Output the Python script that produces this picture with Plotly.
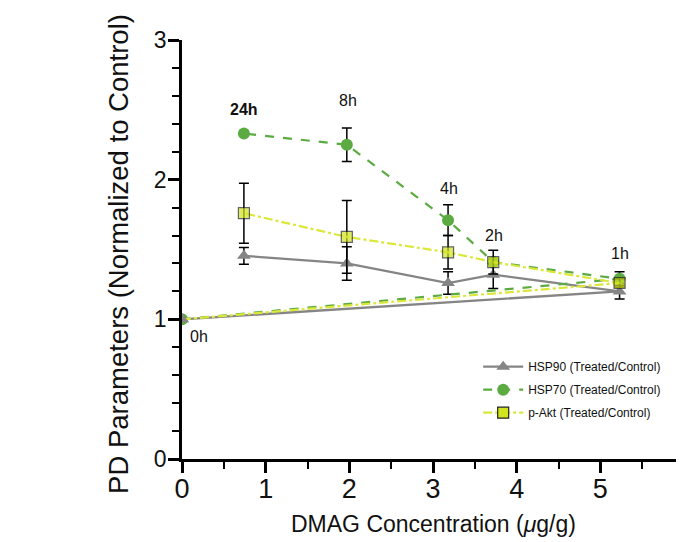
import plotly.graph_objects as go

# Data (x = DMAG concentration, y = normalized PD parameter), time order 0h,1h,2h,4h,8h,24h
time_labels = ["0h", "1h", "2h", "4h", "8h", "24h"]
dmag_conc = [0.0, 5.23, 3.72, 3.18, 1.97, 0.74]

hsp90 = [1.00, 1.20, 1.32, 1.26, 1.40, 1.455]
hsp90_err = [0.0, 0.055, 0.10, 0.08, 0.12, 0.06]

hsp70 = [1.00, 1.29, 1.41, 1.71, 2.25, 2.33]
hsp70_err = [0.0, 0.05, 0.0, 0.11, 0.12, 0.0]

pakt = [1.00, 1.26, 1.41, 1.48, 1.59, 1.76]
pakt_err = [0.0, 0.03, 0.085, 0.12, 0.26, 0.215]

# label positions for the time annotations
label_y = [0.88, 1.47, 1.60, 1.94, 2.57, 2.50]
label_x = [0.20, 5.24, 3.73, 3.19, 1.98, 0.74]

NARROW = "Liberation Sans, Arial, sans-serif"
GRAY = "#858585"
GREEN = "#5bab42"
YELLOW = "#d2e31f"
YLINE = "#dbe83a"

fig = go.Figure()

def err(vals):
    return dict(type="data", array=vals, visible=True, color="black", thickness=1.5, width=5)

fig.add_trace(go.Scatter(
    x=dmag_conc, y=hsp90, mode="lines+markers", name="HSP90 (Treated/Control)",
    legendgroup="a",
    line=dict(color=GRAY, width=2.3),
    marker=dict(symbol="triangle-up", size=12, color=GRAY),
    error_y=err(hsp90_err)))
fig.add_trace(go.Scatter(
    x=dmag_conc, y=hsp70, mode="lines+markers", name="HSP70 (Treated/Control)",
    legendgroup="b",
    line=dict(color=GREEN, width=2.2, dash="dash"),
    marker=dict(symbol="circle", size=12, color=GREEN),
    error_y=err(hsp70_err)))

pakt_line = dict(color=YLINE, width=2.2, dash="dashdot")
pakt_marker = dict(symbol="square", size=11, color=YELLOW, line=dict(color="#222", width=1.2))
pakt_sizes = [0 if xv == 0 else 11 for xv in dmag_conc]
fig.add_trace(go.Scatter(
    x=dmag_conc, y=pakt, mode="lines+markers", name="p-Akt (Treated/Control)",
    legendgroup="c", showlegend=False,
    line=pakt_line,
    marker=dict(pakt_marker, size=pakt_sizes),
    error_y=err(pakt_err)))
# legend entry for p-Akt
fig.add_trace(go.Scatter(
    x=[None], y=[None], mode="lines+markers", name="p-Akt (Treated/Control)",
    legendgroup="c", line=pakt_line, marker=pakt_marker))
# origin triangle drawn on top (as in the reference)
fig.add_trace(go.Scatter(
    x=dmag_conc[:1], y=hsp90[:1], mode="markers", showlegend=False, hoverinfo="skip",
    marker=dict(symbol="triangle-up", size=12, color=GRAY)))

for lx, ly, t in zip(label_x, label_y, time_labels):
    fig.add_annotation(
        x=lx, y=ly, text=("<b>%s</b>" % t) if t == "24h" else t, showarrow=False,
        font=dict(family=NARROW, size=16, color="#111"),
        xanchor="center", yanchor="middle")

fig.add_annotation(
    x=0.5, xref="paper", y=-0.12, yref="paper", yanchor="top",
    text="DMAG Concentration (<i>\u03bc</i>g/g)", showarrow=False,
    font=dict(family=NARROW, size=23, color="#111"))
fig.add_annotation(
    x=-0.127, xref="paper", y=0.49, yref="paper", textangle=-90,
    text="PD Parameters (Normalized to Control)", showarrow=False,
    font=dict(family="Liberation Sans, Arial, sans-serif", size=27.5, color="#111"),
    xanchor="center", yanchor="middle")

fig.update_layout(
    width=684, height=542,
    margin=dict(l=174, r=8, t=32, b=91, autoexpand=False),
    paper_bgcolor="white", plot_bgcolor="white",
    showlegend=True,
    legend=dict(x=0.59, y=0.255, xanchor="left", yanchor="top",
                font=dict(family=NARROW, size=12, color="#111"),
                bgcolor="rgba(0,0,0,0)", itemwidth=40, tracegroupgap=4),
    xaxis=dict(range=[0, 6.0], tickvals=[0, 1, 2, 3, 4, 5], showgrid=False, zeroline=False,
               showline=True, linecolor="black", linewidth=2.5,
               ticks="outside", ticklen=11, tickwidth=2.5, tickcolor="black",
               minor=dict(dtick=0.5, ticks="outside", ticklen=7, tickwidth=1.5, tickcolor="black"),
               ticklabelstandoff=-7,
               tickfont=dict(family=NARROW, size=27, color="#111")),
    yaxis=dict(range=[0, 3], tickvals=[0, 1, 2, 3], showgrid=False, zeroline=False,
               showline=True, linecolor="black", linewidth=2.5,
               ticks="outside", ticklen=11, tickwidth=2.5, tickcolor="black",
               minor=dict(dtick=0.2, ticks="outside", ticklen=7, tickwidth=1.5, tickcolor="black"),
               ticklabelstandoff=-3,
               tickfont=dict(family=NARROW, size=23, color="#111")),
)

fig.write_html("out.html")
